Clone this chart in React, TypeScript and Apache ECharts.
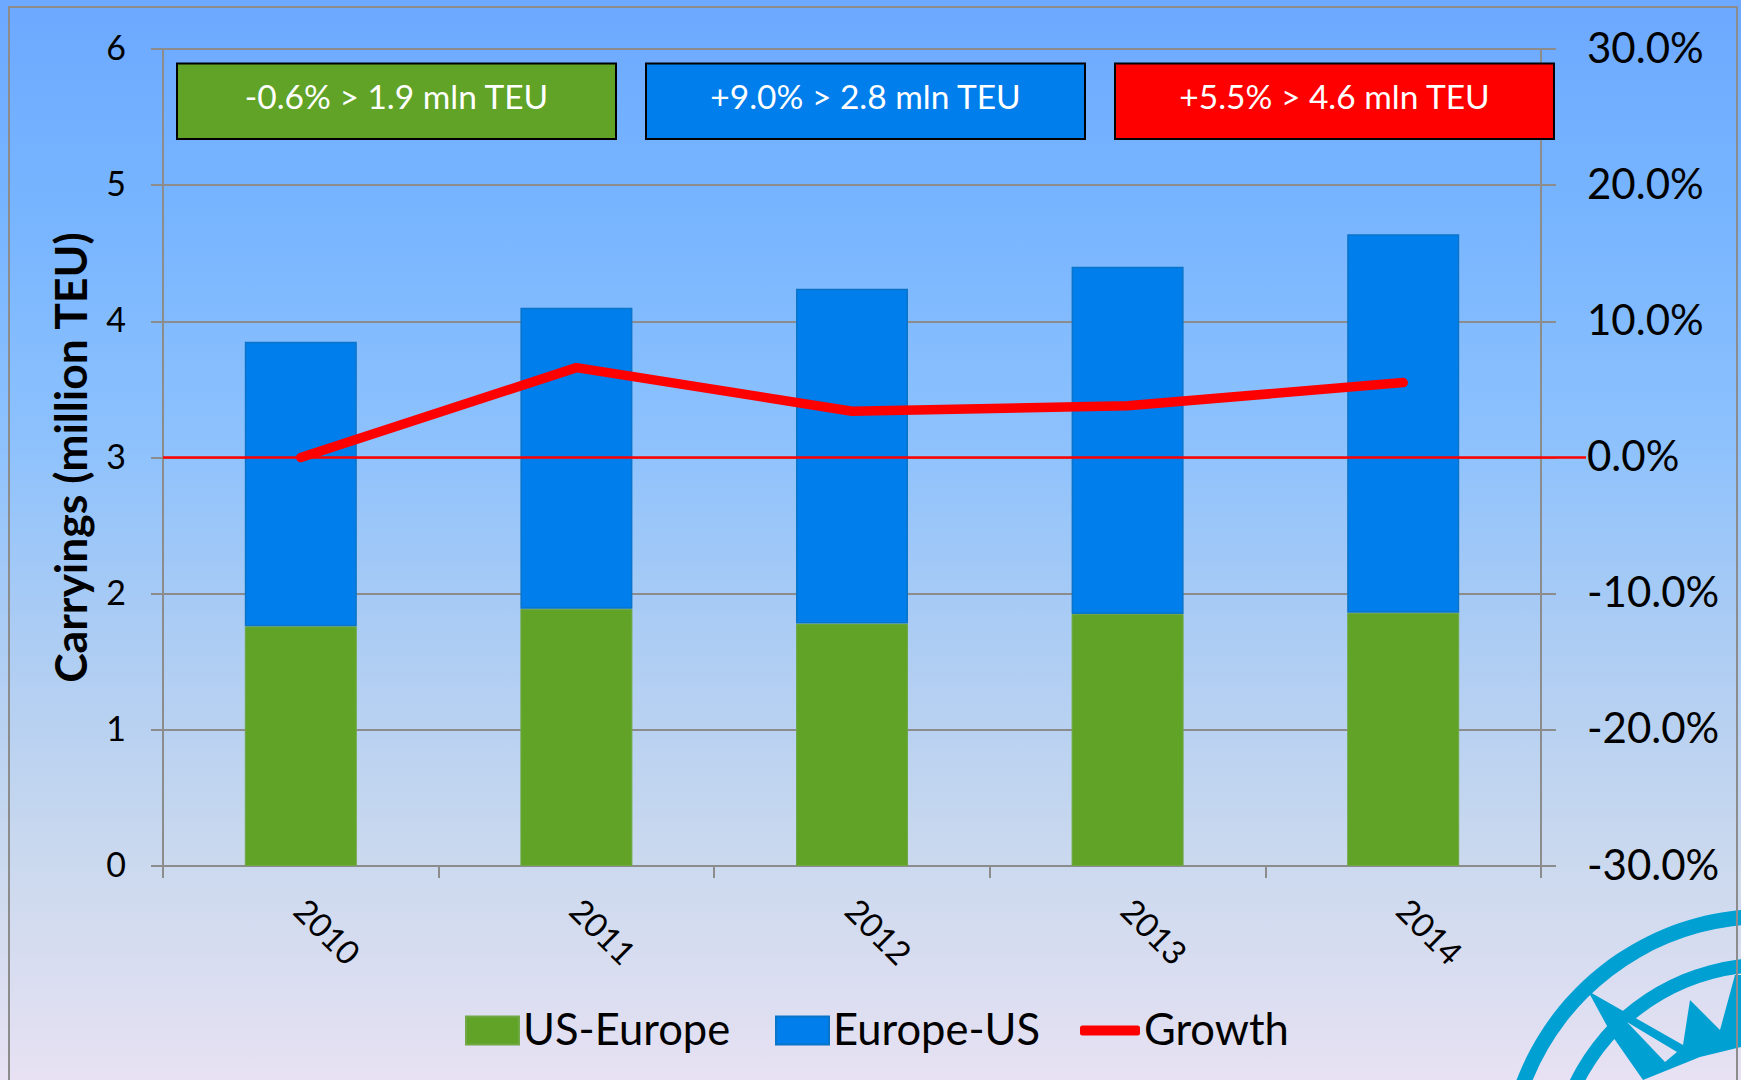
import React, { useEffect, useRef } from "react";
import * as echarts from "echarts";

const years = ["2010", "2011", "2012", "2013", "2014"];
const usEurope = [1.76, 1.89, 1.78, 1.85, 1.86];
const europeUs = [2.09, 2.21, 2.46, 2.55, 2.78];
const growth = [0, 6.6, 3.4, 3.8, 5.5];
const boxLabels = ["-0.6% > 1.9 mln TEU", "+9.0% > 2.8 mln TEU", "+5.5% > 4.6 mln TEU"];
const boxColors = ["#60A327", "#007EEC", "#FF0000"];
const boxLefts = [177, 646, 1115];

const FONT = "Lato, Carlito, 'Noto Sans', sans-serif";
const GRAY = "#8C8C8C";
const LOGO = "#00A1D2";

const legendText = {
  fontFamily: FONT, fontSize: 43.5, color: "#000",
  rich: { a: { fontFamily: FONT, fontSize: 43.5, color: "#000", padding: [0, 0, 5, -1] } },
};

export default function App() {
  const ref = useRef<HTMLDivElement>(null);
  useEffect(() => {
    const chart = echarts.init(ref.current!, undefined, { renderer: "svg" });
    chart.setOption({
      animation: false,
      backgroundColor: {
        type: "linear", x: 0, y: 0, x2: 0, y2: 1,
        colorStops: [
          { offset: 0, color: "#6CA9FF" },
          { offset: 0.2, color: "#78B5FF" },
          { offset: 0.4, color: "#8CC1FD" },
          { offset: 0.6, color: "#AECDF3" },
          { offset: 0.8, color: "#CBD9EE" },
          { offset: 1, color: "#E7E1F3" },
        ],
      },
      grid: { left: 163, right: 200, top: 49, bottom: 214 },
      legend: [
        {
          left: 465, top: 1006, itemWidth: 53, itemHeight: 28, padding: 0, icon: "rect",
          formatter: "{a|{name}}", textStyle: legendText, data: ["US-Europe"],
        },
        {
          left: 775, top: 1006, itemWidth: 53, itemHeight: 28, padding: 0, icon: "rect",
          formatter: "{a|{name}}", textStyle: legendText, data: ["Europe-US"],
        },
        {
          left: 1080, top: 1006, itemWidth: 60, itemHeight: 10, padding: 0, icon: "roundRect",
          formatter: "{a|{name}}", textStyle: legendText, data: ["Growth"],
        },
      ],
      xAxis: {
        type: "category", data: years,
        axisLine: { lineStyle: { color: GRAY, width: 2 } },
        axisTick: { show: true, length: 12, lineStyle: { color: GRAY, width: 2 } },
        axisLabel: { rotate: -45, margin: 38, fontFamily: FONT, fontSize: 33, color: "#000" },
      },
      yAxis: [
        {
          type: "value", min: 0, max: 6, interval: 1,
          name: "Carryings (million TEU)", nameLocation: "middle", nameGap: 71,
          nameTextStyle: { fontFamily: FONT, fontSize: 44.5, fontWeight: "bold", color: "#000" },
          axisLine: { show: true, lineStyle: { color: GRAY, width: 2 } },
          axisTick: { show: true, length: 12, lineStyle: { color: GRAY, width: 2 } },
          splitLine: { show: true, lineStyle: { color: GRAY, width: 2 } },
          axisLabel: {
            margin: 37, fontFamily: FONT, fontSize: 34, color: "#000",
            verticalAlign: "bottom", lineHeight: 5,
          },
        },
        {
          type: "value", min: -30, max: 30, interval: 10, position: "right",
          axisLine: { show: true, lineStyle: { color: GRAY, width: 2 } },
          axisTick: { show: true, length: 15, lineStyle: { color: GRAY, width: 2 } },
          splitLine: { show: false },
          axisLabel: {
            margin: 46, fontFamily: FONT, fontSize: 42, color: "#000",
            verticalAlign: "bottom", lineHeight: 5,
            formatter: (v: number) => v.toFixed(1) + "%",
          },
        },
      ],
      series: [
        {
          name: "US-Europe", type: "bar", stack: "total", data: usEurope, barWidth: 112,
          itemStyle: { color: "#60A327", borderColor: "#6FA845", borderWidth: 1 },
        },
        {
          name: "Europe-US", type: "bar", stack: "total", data: europeUs, barWidth: 112,
          itemStyle: { color: "#007EEC", borderColor: "#0A74C8", borderWidth: 1.5 },
        },
        {
          name: "Growth", type: "line", yAxisIndex: 1, data: growth, symbol: "none", z: 5,
          lineStyle: { color: "#FF0000", width: 9.5, cap: "round", join: "round" },
          itemStyle: { color: "#FF0000" },
        },
      ],
    });

    const zeroY = chart.convertToPixel({ yAxisIndex: 1 }, 0) as number;

    chart.setOption({
      graphic: [
        // compass logo
        { type: "ring", z: 1, shape: { cx: 1765, cy: 1175, r: 266, r0: 251 }, style: { fill: LOGO } },
        { type: "ring", z: 1, shape: { cx: 1765, cy: 1175, r: 217, r0: 203 }, style: { fill: LOGO } },
        {
          type: "polygon", z: 1,
          shape: {
            points: [
              [1588, 991], [1683, 1045], [1690, 1000], [1720, 1030], [1735, 975], [1741, 975],
              [1741, 1047], [1700, 1057], [1643, 1080], [1613, 1037],
            ],
          },
          style: { fill: LOGO },
        },
        {
          type: "polygon", z: 1,
          shape: { points: [[1627, 1022], [1677, 1052], [1665, 1062]] },
          style: { fill: "#E1E0F2" },
        },
        // outer frame
        {
          type: "polyline", z: 2,
          shape: { points: [[9, 1080], [9, 7], [1737, 7], [1737, 1080]] },
          style: { stroke: GRAY, lineWidth: 2, fill: "none" },
        },
        // zero-growth line
        {
          type: "line", z: 20,
          shape: { x1: 163, y1: zeroY, x2: 1586, y2: zeroY },
          style: { stroke: "#FF0000", lineWidth: 2.5 },
        },
        // annotation boxes
        ...boxLabels.map((label, i) => ({
          type: "rect", z: 30,
          shape: { x: boxLefts[i], y: 63.5, width: 439, height: 75.5 },
          style: { fill: boxColors[i], stroke: "#000", lineWidth: 2 },
        })),
        ...boxLabels.map((label, i) => ({
          type: "text", z: 31,
          x: boxLefts[i] + 219.5, y: 95.5,
          style: {
            text: label, fill: "#fff", font: `33.5px ${FONT}`,
            align: "center", verticalAlign: "middle",
          },
        })),
      ],
    });
    return () => chart.dispose();
  }, []);
  return (
    <div
      ref={ref}
      style={{ position: "fixed", left: 0, top: 0, width: 1741, height: 1080 }}
    />
  );
}
